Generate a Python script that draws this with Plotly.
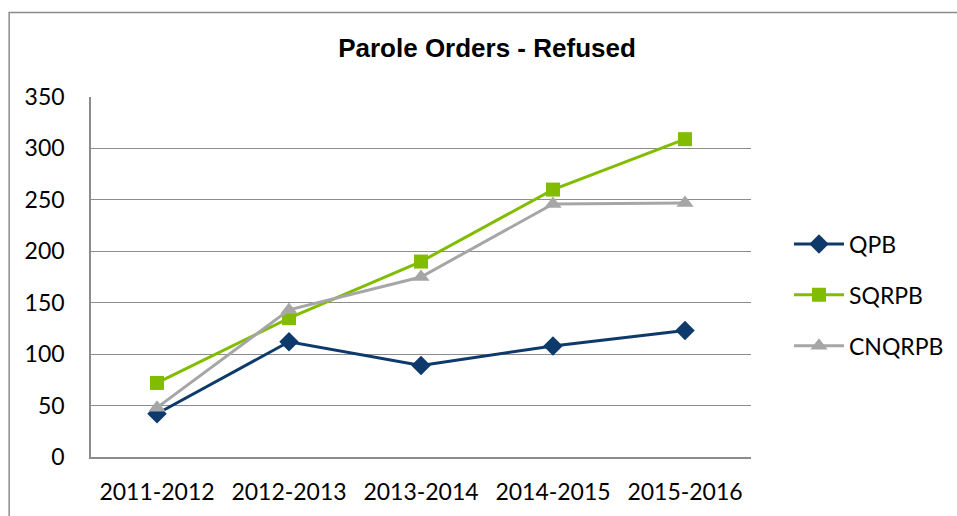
import plotly.graph_objects as go

anos = ['2011-2012', '2012-2013', '2013-2014', '2014-2015', '2015-2016']
qpb = [42, 112, 89, 108, 123]
sqrpb = [72, 135, 190, 260, 309]
cnqrpb = [48, 143, 175, 246, 247]

fonte = "Lato, 'Open Sans', sans-serif"

fig = go.Figure()

fig.add_trace(go.Scatter(
    x=anos, y=qpb, name='QPB', mode='lines+markers', legendgroup='a',
    line=dict(color='#0E3A6B', width=3),
    marker=dict(symbol='diamond', size=15, color='#0E3A6B')
))
fig.add_trace(go.Scatter(
    x=anos, y=sqrpb, name='SQRPB', mode='lines+markers', legendgroup='b',
    line=dict(color='#82BC00', width=3),
    marker=dict(symbol='square', size=14, color='#82BC00')
))
fig.add_trace(go.Scatter(
    x=anos, y=cnqrpb, name='CNQRPB', mode='lines+markers', legendgroup='c',
    line=dict(color='#A6A6A6', width=3),
    marker=dict(symbol='triangle-up', size=15, color='#A6A6A6')
))

# borda do gráfico (estilo Excel)
fig.add_shape(type='rect', xref='paper', yref='paper',
              x0=-0.124, x1=1.4, y0=-0.25, y1=1.2347,
              line=dict(color='#8C8C8C', width=1.5), layer='below')

fig.update_layout(
    width=957, height=516,
    margin=dict(l=91, r=206, t=97, b=59),
    paper_bgcolor='white', plot_bgcolor='white',
    font=dict(family=fonte, size=23, color='#000000'),
    title=dict(text='<b>Parole Orders - Refused</b>', x=0.6, xref='paper', xanchor='center',
               y=1 - 48 / 516, yref='container', yanchor='middle',
               font=dict(family='Liberation Sans, Arial, sans-serif', size=26, color='#000000')),
    xaxis=dict(type='category', range=[-0.5, 4.5], showgrid=False,
               showline=True, linecolor='#8C8C8C', linewidth=1.5,
               ticks='', ticklabelstandoff=14, fixedrange=True),
    yaxis=dict(range=[0, 350], dtick=50, showgrid=True, gridcolor='#8C8C8C', gridwidth=1,
               showline=True, linecolor='#8C8C8C', linewidth=1.5, zeroline=False,
               ticks='', ticklabelstandoff=20, fixedrange=True),
    legend=dict(x=789 / 957, xref='container', y=1 - 295 / 516, yref='container',
                xanchor='left', yanchor='middle',
                font=dict(family=fonte, size=23), tracegroupgap=18,
                itemwidth=50, bgcolor='rgba(0,0,0,0)'),
    showlegend=True
)

fig.write_html("out.html", config={'displayModeBar': False},
               post_script="document.body.style.margin='0';")
